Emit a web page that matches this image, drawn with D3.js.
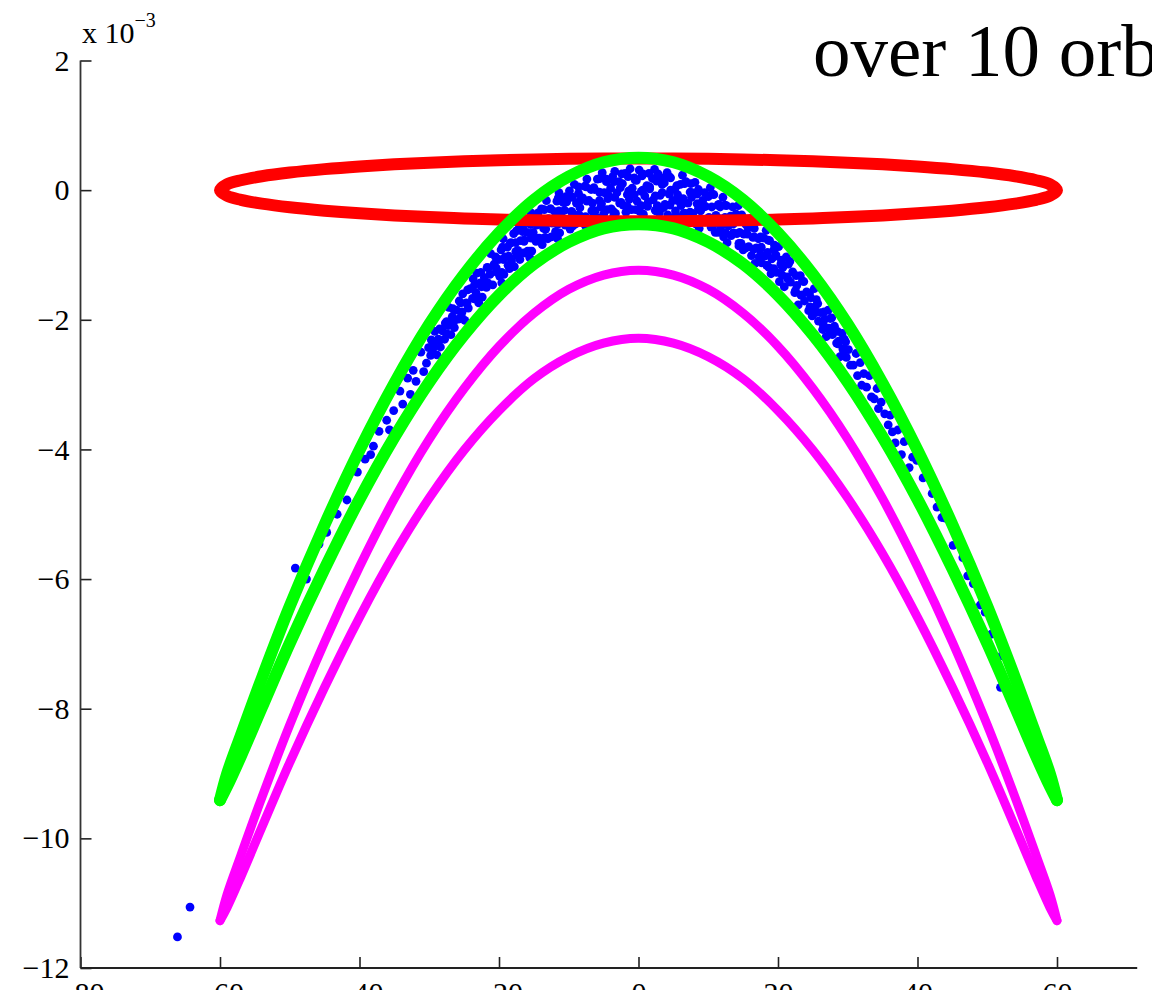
<!DOCTYPE html>
<meta charset="utf-8">
<style>
  body { margin: 0; background: #fff; overflow: hidden; }
  svg { display: block; }
  text { font-family: "Liberation Serif", "Times New Roman", serif; fill: #000; }
</style>

<!-- Load d3.js -->
<script src="https://d3js.org/d3.v7.min.js"></script>

<div id="my_chart"></div>

<script>
// ---- data (y values are in units of 1e-3) ----
var curveX = [-60,-59,-57,-54,-50,-45,-40,-35,-30,-25,-20,-15,-10,-5,0,5,10,15,20,25,30,35,40,45,50,54,57,59,60];

var redTop    = [0,0.089,0.153,0.214,0.271,0.324,0.365,0.398,0.424,0.445,0.462,0.474,0.483,0.488,0.49,0.488,0.483,0.474,0.462,0.445,0.424,0.398,0.365,0.324,0.271,0.214,0.153,0.089,0];
var redBottom = [0,-0.087,-0.150,-0.209,-0.265,-0.317,-0.358,-0.390,-0.416,-0.436,-0.453,-0.465,-0.473,-0.478,-0.48,-0.478,-0.473,-0.465,-0.453,-0.436,-0.416,-0.390,-0.358,-0.317,-0.265,-0.209,-0.150,-0.087,0];

var greenTop    = [-9.41,-9.01,-8.41,-7.53,-6.42,-5.16,-4.01,-2.98,-2.07,-1.30,-0.66,-0.15,0.21,0.43,0.50,0.43,0.21,-0.15,-0.66,-1.30,-2.07,-2.98,-4.01,-5.16,-6.42,-7.53,-8.41,-9.01,-9.41];
var greenBottom = [-9.41,-9.20,-8.73,-7.98,-6.99,-5.84,-4.77,-3.81,-2.96,-2.23,-1.62,-1.14,-0.80,-0.59,-0.525,-0.59,-0.80,-1.14,-1.62,-2.23,-2.96,-3.81,-4.77,-5.84,-6.99,-7.98,-8.73,-9.20,-9.41];

var magentaTop    = [-11.27,-10.87,-10.26,-9.37,-8.25,-6.97,-5.81,-4.76,-3.84,-3.06,-2.41,-1.90,-1.53,-1.31,-1.235,-1.31,-1.53,-1.90,-2.41,-3.06,-3.84,-4.76,-5.81,-6.97,-8.25,-9.37,-10.26,-10.87,-11.27];
var magentaBottom = [-11.27,-11.07,-10.59,-9.83,-8.83,-7.67,-6.59,-5.61,-4.75,-4.01,-3.40,-2.91,-2.57,-2.36,-2.285,-2.36,-2.57,-2.91,-3.40,-4.01,-4.75,-5.61,-6.59,-7.67,-8.83,-9.83,-10.59,-11.07,-11.27];

// simulated particles (blue dots)
var dotsCenter = [
  [0.1,0.31],[-0.3,0.15],[0.4,-0.02],[-0.2,-0.17],[0.2,-0.33],
  [0.6,0.25],[1.2,0.07],[0.9,-0.09],[1.3,-0.25],[0.7,-0.37],
  [2.3,0.32],[2.0,0.18],[1.6,0.02],[2.1,-0.15],[2.4,-0.31],
  [2.8,0.25],[3.4,0.09],[3.1,-0.08],[2.7,-0.24],[3.0,-0.35],
  [4.1,0.27],[3.7,0.11],[4.4,-0.06],[3.8,-0.22],[4.2,-0.38],
  [4.6,0.19],[5.2,0.01],[4.9,-0.16],[5.3,-0.32],[4.7,-0.44],
  [6.3,0.23],[6.0,0.09],[5.6,-0.07],[6.1,-0.24],[6.4,-0.40],
  [6.8,0.13],[7.4,-0.03],[7.1,-0.20],[6.7,-0.36],[7.0,-0.47],
  [8.1,0.12],[7.7,-0.04],[8.4,-0.21],[7.8,-0.36],[8.2,-0.52],
  [8.6,0.01],[9.2,-0.16],[8.9,-0.32],[9.3,-0.47],[8.7,-0.59],
  [10.3,0.04],[10.0,-0.10],[9.6,-0.25],[10.1,-0.42],[10.4,-0.57],
  [10.8,-0.07],[11.4,-0.23],[11.1,-0.39],[10.7,-0.54],[11.0,-0.65],
  [12.1,-0.11],[11.7,-0.26],[12.4,-0.42],[11.8,-0.57],[12.2,-0.72],
  [12.6,-0.24],[13.2,-0.40],[12.9,-0.55],[13.3,-0.70],[12.7,-0.81],
  [14.3,-0.24],[14.0,-0.37],[13.6,-0.52],[14.1,-0.67],[14.4,-0.82],
  [14.8,-0.38],[15.4,-0.53],[15.1,-0.68],[14.7,-0.82],[15.0,-0.92],
  [16.1,-0.44],[15.7,-0.58],[16.4,-0.73],[15.8,-0.87],[16.2,-1.01],
  [16.6,-0.59],[17.2,-0.75],[16.9,-0.89],[17.3,-1.03],[16.7,-1.13],
  [18.3,-0.62],[18.0,-0.74],[17.6,-0.88],[18.1,-1.02],[18.4,-1.16],
  [18.8,-0.78],[19.4,-0.92],[19.1,-1.06],[18.7,-1.19],[19.0,-1.29],
  [20.1,-0.87],[19.7,-1.00],[20.4,-1.14],[19.8,-1.27],[20.2,-1.41],
  [-1.2,0.33],[-0.6,0.19],[-0.9,0.03],[-1.3,-0.14],[-1.0,-0.30],
  [-1.9,0.26],[-2.3,0.10],[-1.6,-0.07],[-2.2,-0.23],[-1.8,-0.34],
  [-3.4,0.29],[-2.8,0.13],[-3.1,-0.04],[-2.7,-0.20],[-3.3,-0.36],
  [-3.7,0.21],[-4.0,0.03],[-4.4,-0.13],[-3.9,-0.29],[-3.6,-0.41],
  [-5.2,0.27],[-4.6,0.13],[-4.9,-0.04],[-5.3,-0.21],[-5.0,-0.37],
  [-5.9,0.17],[-6.3,0.01],[-5.6,-0.16],[-6.2,-0.32],[-5.8,-0.43],
  [-7.4,0.17],[-6.8,0.01],[-7.1,-0.16],[-6.7,-0.32],[-7.3,-0.48],
  [-7.7,0.06],[-8.0,-0.12],[-8.4,-0.27],[-7.9,-0.43],[-7.6,-0.55],
  [-9.2,0.09],[-8.6,-0.05],[-8.9,-0.20],[-9.3,-0.37],[-9.0,-0.52],
  [-9.9,-0.01],[-10.3,-0.18],[-9.6,-0.33],[-10.2,-0.49],[-9.8,-0.60],
  [-11.4,-0.04],[-10.8,-0.19],[-11.1,-0.36],[-10.7,-0.51],[-11.3,-0.66],
  [-11.7,-0.17],[-12.0,-0.33],[-12.4,-0.49],[-11.9,-0.64],[-11.6,-0.75],
  [-13.2,-0.16],[-12.6,-0.29],[-12.9,-0.44],[-13.3,-0.60],[-13.0,-0.75],
  [-13.9,-0.29],[-14.3,-0.45],[-13.6,-0.59],[-14.2,-0.74],[-13.8,-0.84],
  [-15.4,-0.35],[-14.8,-0.49],[-15.1,-0.65],[-14.7,-0.79],[-15.3,-0.94],
  [-15.7,-0.49],[-16.0,-0.65],[-16.4,-0.79],[-15.9,-0.94],[-15.6,-1.04],
  [-17.2,-0.52],[-16.6,-0.64],[-16.9,-0.78],[-17.3,-0.93],[-17.0,-1.07],
  [-17.9,-0.67],[-18.3,-0.81],[-17.6,-0.95],[-18.2,-1.09],[-17.8,-1.18],
  [-19.4,-0.75],[-18.8,-0.88],[-19.1,-1.03],[-18.7,-1.16],[-19.3,-1.30],
  [-19.7,-0.92],[-20.0,-1.07],[-20.4,-1.20],[-19.9,-1.33],[-19.6,-1.43]
];

// extra particles between the columns above, where the cloud is densest
var dotsCenterFill = [
  [0.5,0.22],[0.6,0.00],[0.4,-0.24],[1.5,0.26],[1.6,0.05],[1.4,-0.18],
  [2.6,0.14],[2.4,-0.09],[2.5,-0.32],[3.5,0.19],[3.4,-0.04],[3.6,-0.27],
  [4.4,0.21],[4.6,0.00],[4.5,-0.23],[5.5,0.07],[5.6,-0.16],[5.4,-0.39],
  [6.6,0.10],[6.4,-0.13],[6.5,-0.36],[7.5,0.10],[7.6,-0.11],[7.4,-0.34],
  [8.4,-0.06],[8.6,-0.28],[8.5,-0.50],[9.5,-0.04],[9.4,-0.26],[9.6,-0.49],
  [10.6,-0.06],[10.5,-0.26],[10.4,-0.48],[11.5,-0.22],[11.6,-0.44],[11.4,-0.65],
  [12.4,-0.23],[12.6,-0.44],[12.5,-0.66],[13.5,-0.26],[13.4,-0.46],[13.6,-0.66],
  [14.6,-0.44],[14.5,-0.65],[14.4,-0.86],[15.5,-0.48],[15.6,-0.68],[15.4,-0.89],
  [16.4,-0.53],[16.6,-0.72],[16.5,-0.91],[17.5,-0.72],[17.4,-0.92],[17.6,-1.12],
  [18.6,-0.77],[18.5,-0.96],[18.4,-1.16],[19.5,-0.85],[19.6,-1.02],[19.4,-1.21],
  [-0.5,0.16],[-0.6,-0.07],[-0.4,-0.30],[-1.5,0.21],[-1.4,-0.01],[-1.6,-0.25],
  [-2.4,0.25],[-2.6,0.04],[-2.5,-0.19],[-3.5,0.13],[-3.4,-0.11],[-3.6,-0.33],
  [-4.6,0.17],[-4.4,-0.06],[-4.5,-0.30],[-5.5,0.18],[-5.6,-0.03],[-5.4,-0.26],
  [-6.4,0.04],[-6.6,-0.20],[-6.5,-0.42],[-7.5,0.05],[-7.4,-0.17],[-7.6,-0.41],
  [-8.6,0.05],[-8.4,-0.16],[-8.5,-0.38],[-9.5,-0.11],[-9.6,-0.33],[-9.4,-0.55],
  [-10.4,-0.10],[-10.6,-0.31],[-10.5,-0.54],[-11.5,-0.12],[-11.4,-0.32],[-11.6,-0.53],
  [-12.6,-0.29],[-12.4,-0.51],[-12.5,-0.72],[-13.5,-0.30],[-13.6,-0.51],[-13.4,-0.73],
  [-14.4,-0.35],[-14.6,-0.54],[-14.5,-0.74],[-15.5,-0.53],[-15.4,-0.74],[-15.6,-0.94],
  [-16.6,-0.57],[-16.4,-0.77],[-16.5,-0.97],[-17.5,-0.63],[-17.6,-0.81],[-17.4,-1.01],
  [-18.4,-0.82],[-18.6,-1.02],[-18.5,-1.21],[-19.5,-0.88],[-19.4,-1.07],[-19.6,-1.27]
];

var dotsFlanks = [
  [21.2,-1.03],[20.7,-1.19],[21.3,-1.34],[20.9,-1.49],
  [21.7,-1.10],[22.1,-1.26],[21.8,-1.42],[22.4,-1.58],
  [23.2,-1.32],[22.7,-1.47],[23.3,-1.62],[22.9,-1.77],
  [23.7,-1.41],[24.1,-1.57],[23.8,-1.71],[24.4,-1.86],
  [25.2,-1.52],[24.7,-1.66],[25.3,-1.80],[24.9,-1.94],
  [25.7,-1.75],[26.1,-1.89],[25.8,-2.02],[26.4,-2.15],
  [27.2,-1.85],[26.7,-1.99],[27.3,-2.13],[26.9,-2.26],
  [27.7,-1.97],[28.1,-2.10],[27.8,-2.23],[28.4,-2.36],
  [29.2,-2.21],[28.7,-2.33],[29.3,-2.45],[28.9,-2.57],
  [29.7,-2.34],[30.1,-2.46],[29.8,-2.58],[30.4,-2.70],
  [20.5,-1.08],[20.6,-1.31],[21.5,-1.14],[21.4,-1.37],[22.6,-1.32],[22.5,-1.55],
  [23.5,-1.40],[23.4,-1.62],[24.5,-1.59],[24.6,-1.80],[25.5,-1.69],[25.4,-1.89],
  [26.6,-1.88],[26.5,-2.08],[27.5,-1.98],[27.4,-2.17],[28.5,-2.18],[28.6,-2.37],
  [29.5,-2.30],[29.4,-2.48],
  [-21.2,-0.98],[-20.7,-1.14],[-21.3,-1.30],[-20.9,-1.46],
  [-21.7,-1.19],[-22.1,-1.35],[-21.8,-1.50],[-22.4,-1.65],
  [-23.2,-1.28],[-22.7,-1.43],[-23.3,-1.58],[-22.9,-1.74],
  [-23.7,-1.37],[-24.1,-1.52],[-23.8,-1.67],[-24.4,-1.82],
  [-25.2,-1.60],[-24.7,-1.74],[-25.3,-1.88],[-24.9,-2.01],
  [-25.7,-1.71],[-26.1,-1.85],[-25.8,-1.99],[-26.4,-2.12],
  [-27.2,-1.81],[-26.7,-1.95],[-27.3,-2.09],[-26.9,-2.23],
  [-27.7,-2.05],[-28.1,-2.17],[-27.8,-2.30],[-28.4,-2.42],
  [-29.2,-2.18],[-28.7,-2.30],[-29.3,-2.42],[-28.9,-2.54],
  [-29.7,-2.31],[-30.1,-2.43],[-29.8,-2.55],[-30.4,-2.67],
  [-20.5,-1.03],[-20.4,-1.26],[-21.5,-1.20],[-21.6,-1.43],[-22.6,-1.27],[-22.5,-1.49],
  [-23.5,-1.46],[-23.4,-1.68],[-24.5,-1.54],[-24.6,-1.75],[-25.5,-1.74],[-25.4,-1.94],
  [-26.6,-1.83],[-26.5,-2.03],[-27.5,-2.03],[-27.4,-2.22],[-28.5,-2.14],[-28.6,-2.32],
  [-29.5,-2.35],[-29.4,-2.52]
];

var dotsTails = [
  [31.2,-2.52],[30.8,-2.70],[31.4,-2.86],
  [31.8,-2.66],[32.3,-2.83],[32.0,-3.01],
  [33.1,-2.86],[32.7,-3.04],[33.4,-3.19],
  [34.2,-3.06],[33.8,-3.22],[34.4,-3.37],
  [34.8,-3.27],[35.3,-3.45],
  [36.1,-3.47],[35.8,-3.62],[36.4,-3.73],
  [37.2,-3.70],[36.8,-3.90],
  [38.1,-3.88],[37.7,-4.08],
  [39.3,-4.12],[38.8,-4.28],
  [39.9,-4.17],[40.8,-4.44],[42.1,-4.68],[42.8,-4.89],[43.5,-5.05],[44.0,-5.06],
  [45.1,-5.48],[46.5,-5.67],[47.2,-5.95],[48.0,-6.07],[49.0,-6.40],[49.7,-6.51],
  [50.6,-6.85],[52.1,-7.18],[51.9,-7.67],
  [-31.2,-2.50],[-30.8,-2.80],[-32.3,-2.78],[-31.9,-2.95],
  [-33.1,-2.90],[-32.7,-3.15],[-34.2,-3.10],[-33.8,-3.30],
  [-35.1,-3.40],[-36.1,-3.55],[-35.7,-3.70],[-37.2,-3.72],
  [-38.0,-3.95],[-38.4,-4.08],[-39.2,-4.15],[-40.3,-4.35],
  [-41.8,-4.78],[-43.2,-5.00],[-44.7,-5.28],[-45.8,-5.46],
  [-47.6,-6.00],[-49.2,-5.83]
];

var dotsOutliers = [[-64.3,-11.06],[-66.1,-11.52]];

var xTicks = [-80,-60,-40,-20,0,20,40,60];
var yTicks = [2,0,-2,-4,-6,-8,-10,-12];
var xAxisEnd = 71.5;

// ---- layout ----
var W = 1152, H = 990;
var serif = "'Liberation Serif', 'Times New Roman', serif";

var svg = d3.select("#my_chart")
  .append("svg")
    .attr("width", W)
    .attr("height", H);

var x = d3.scaleLinear()
  .domain([-80, 80])
  .range([80.5, 1196.5]);

var y = d3.scaleLinear()
  .domain([-12, 2])
  .range([968, 60.5]);

var fmt = function(d) { return String(d).replace("-", "\u2212"); };

// ---- blue particles ----
var allDots = dotsCenter.concat(dotsCenterFill, dotsFlanks, dotsTails, dotsOutliers);
svg.append("g")
  .selectAll("circle")
  .data(allDots)
  .enter()
  .append("circle")
    .attr("cx", function(d) { return x(d[0]); })
    .attr("cy", function(d) { return y(d[1]); })
    .attr("r", 4.4)
    .style("fill", "#0000ff");

// ---- curves ----
var pts = function(ys) { return curveX.map(function(v, i) { return [v, ys[i]]; }); };

var openLine = d3.line()
  .x(function(d) { return x(d[0]); })
  .y(function(d) { return y(d[1]); })
  .curve(d3.curveCatmullRom);

var closedLine = d3.line()
  .x(function(d) { return x(d[0]); })
  .y(function(d) { return y(d[1]); })
  .curve(d3.curveCatmullRomClosed);

// red ellipse: top from left to right, bottom back again
var redLoop = pts(redTop).concat(pts(redBottom).slice(1, -1).reverse());
svg.append("path")
  .attr("d", closedLine(redLoop))
  .style("fill", "none")
  .style("stroke", "#ff0000")
  .style("stroke-width", 12);

[[magentaTop, "#ff00ff", 9], [magentaBottom, "#ff00ff", 9],
 [greenTop, "#00ff00", 12], [greenBottom, "#00ff00", 12]].forEach(function(c) {
  svg.append("path")
    .attr("d", openLine(pts(c[0])))
    .style("fill", "none")
    .style("stroke", c[1])
    .style("stroke-width", c[2])
    .style("stroke-linecap", "round");
});

// ---- axes ----
var yAxis = d3.axisLeft(y)
  .tickValues(yTicks)
  .tickFormat(fmt)
  .tickSizeInner(-11)
  .tickSizeOuter(0)
  .tickPadding(11);

var xAxis = d3.axisBottom(x)
  .tickValues(xTicks)
  .tickFormat(fmt)
  .tickSizeInner(-11)
  .tickSizeOuter(0)
  .tickPadding(14);

var gy = svg.append("g")
  .attr("transform", "translate(" + x(-80) + ",0)")
  .call(yAxis)
  .attr("font-family", serif)
  .attr("font-size", 30);
gy.select(".domain").remove();

var gx = svg.append("g")
  .attr("transform", "translate(0," + y(-12) + ")")
  .call(xAxis)
  .attr("font-family", serif)
  .attr("font-size", 30);
gx.select(".domain").remove();

svg.selectAll(".tick text").style("font-family", serif).style("font-size", "30px");
svg.selectAll(".tick line").style("stroke", "#222").style("stroke-width", 1.6);

// axis lines
svg.append("line")
  .attr("x1", x(-80)).attr("x2", x(-80))
  .attr("y1", y(2)).attr("y2", y(-12))
  .style("stroke", "#333").style("stroke-width", 1.8);
svg.append("line")
  .attr("x1", x(-80)).attr("x2", x(xAxisEnd))
  .attr("y1", y(-12)).attr("y2", y(-12))
  .style("stroke", "#222").style("stroke-width", 1.8);

// exponent label
var expo = svg.append("text")
  .attr("x", 82)
  .attr("y", 43)
  .style("font-size", "30px");
expo.append("tspan").text("x 10");
expo.append("tspan")
  .attr("dy", -16)
  .style("font-size", "20px")
  .text("\u22123");

// title (second line, cut by the frame)
svg.append("text")
  .attr("x", 813)
  .attr("y", 76)
  .style("font-size", "75px")
  .text("over 10 orbits");
</script>
